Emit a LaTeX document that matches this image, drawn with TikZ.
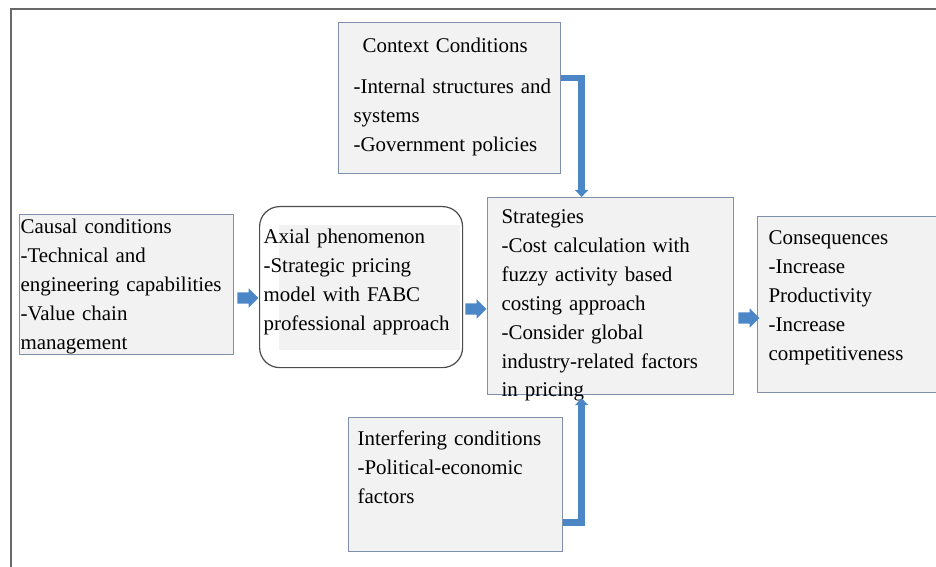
\documentclass[tikz,border=0pt]{standalone}
\usepackage{fontspec}
\setmainfont{Liberation Serif}
\usepackage{xcolor}
\usepackage{tikz}
\usetikzlibrary{positioning, shapes, shapes.arrows, arrows.meta, calc}

\definecolor{boxfill}{RGB}{242,242,242}
\definecolor{boxline}{RGB}{128,144,172}
\definecolor{flowblue}{RGB}{75,135,198}
\definecolor{framegray}{RGB}{105,105,105}

\begin{document}
\begin{tikzpicture}[x=1bp, y=-1bp,
    every node/.style={font=\fontsize{21}{29}\selectfont},
    cbox/.style={draw=boxline, fill=boxfill, line width=1.2bp, anchor=north west,
                 inner ysep=0pt, align=left},
    blockarrow/.style={single arrow, fill=flowblue, inner sep=5.5bp,
                       single arrow head extend=4bp, minimum height=21bp},
    elbow/.style={flowblue, line width=6.5bp,
                  -{Triangle[width=13bp, length=7bp]}}]
          \useasboundingbox (0,0) rectangle (936,567);

          % outer frame, only left and top edges show
          \draw[framegray, line width=2bp] (11,567) -- (11,9) -- (936,9);

          \node[cbox, inner xsep=15bp, text width=192bp, text height=30bp, text depth=121bp] (context) at (338,22) {
            \hspace*{9bp}Context Conditions\\[12bp]
            \mbox{-Internal structures and}\\
            systems\\
            -Government policies
          };

          \node[cbox, inner xsep=1bp, text width=212bp, text height=19bp, text depth=121bp] (causal) at (19,214) {
            Causal conditions\\
            -Technical and\\
            engineering capabilities\\
            -Value chain\\
            management
          };

          % faint text area inside the rounded box
          \fill[boxfill] (279,225) rectangle (460,350);
          \node[draw=black!70, line width=1.2bp, rounded corners=20bp, anchor=north west, inner ysep=0pt,
                align=left, inner xsep=4bp, text width=195bp, text height=37bp, text depth=124bp] (axial) at (259,206) {
            Axial phenomenon\\
            -Strategic pricing\\
            model with FABC\\
            professional approach
          };

          \node[cbox, inner xsep=14bp, text width=218bp, text height=26bp, text depth=171bp] (strat) at (487,197) {
            Strategies\\
            -Cost calculation with\\
            fuzzy activity based\\
            costing approach\\
            -Consider global\\
            industry-related factors\\
            in pricing
          };

          \node[cbox, inner xsep=11bp, text width=160bp, text height=28bp, text depth=148bp] (conseq) at (757,216) {
            Consequences\\
            -Increase\\
            Productivity\\
            -Increase\\
            competitiveness
          };

          \node[cbox, inner xsep=9bp, text width=196bp, text height=28bp, text depth=106bp] (interf) at (348,417) {
            Interfering conditions\\
            -Political-economic\\
            factors
          };

          % block arrows along the main row
          \node[blockarrow] (ca) at (245,298) {};
          \node[blockarrow] (as) at (473,309) {};
          \node[blockarrow] (sc) at (746,318) {};

          % elbow connectors into the strategies box
          \draw[elbow] ([yshift=20bp]context.east) -| ([xshift=-29bp]strat.north);
          \draw[elbow] ([yshift=-38bp]interf.east) -| ([xshift=-29bp, yshift=-3bp]strat.south);
        \end{tikzpicture}
\end{document}
